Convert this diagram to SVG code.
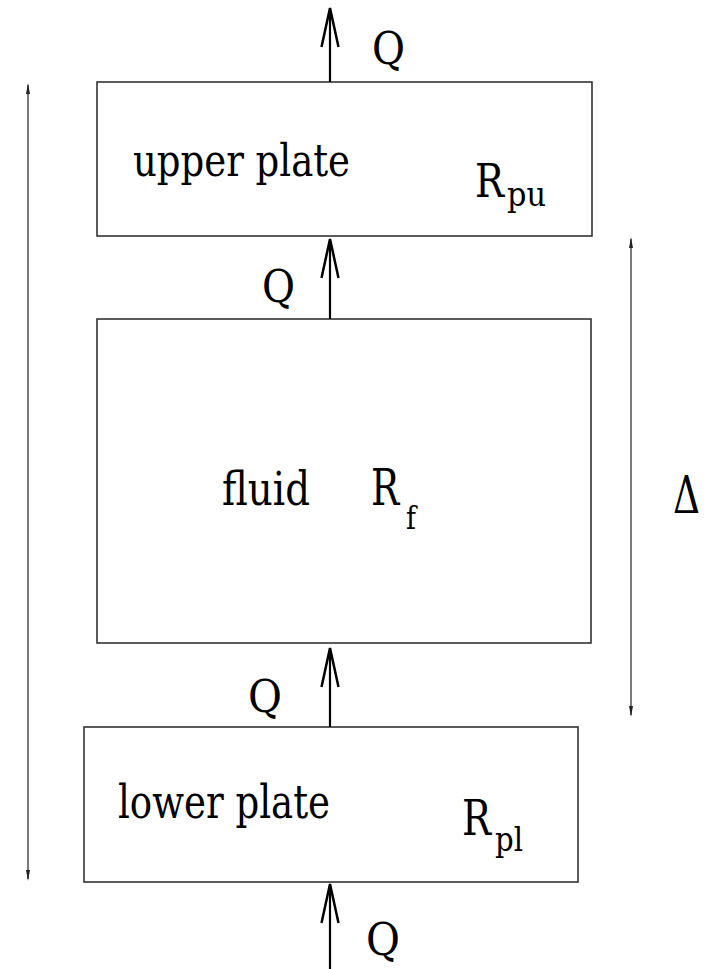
<svg xmlns="http://www.w3.org/2000/svg" width="712" height="969" viewBox="0 0 712 969">
<style>
.box{fill:#fff;stroke:#333;stroke-width:1.6}
.t{font-family:'DejaVu Serif','Noto Serif','Liberation Serif',serif;fill:#000}
.shaft{stroke:#000;stroke-width:2.2;fill:none}
.head{stroke:#000;stroke-width:2.5;fill:none;stroke-linejoin:miter}
.dim{stroke:#222;stroke-width:1.2;fill:none}
.dh{fill:#222;stroke:none}
</style>
<rect width="712" height="969" fill="#fff"/>
<g id="upper-plate">
<rect class="box" x="97" y="82" width="495" height="154"/>
<text class="t" x="133" y="176" font-size="44" textLength="217" lengthAdjust="spacingAndGlyphs">upper plate</text>
<text class="t" x="475" y="197" font-size="46" textLength="29" lengthAdjust="spacingAndGlyphs">R</text>
<text class="t" x="507" y="206" font-size="34" textLength="39" lengthAdjust="spacingAndGlyphs">pu</text>
</g>
<g id="fluid">
<rect class="box" x="97" y="319" width="494" height="324"/>
<text class="t" x="222" y="505" font-size="46" textLength="88" lengthAdjust="spacingAndGlyphs">fluid</text>
<text class="t" transform="translate(371,505) scale(0.75,1)" x="0" y="0" font-size="50">R</text>
<text class="t" x="406" y="529" font-size="32" textLength="10" lengthAdjust="spacingAndGlyphs">f</text>
</g>
<g id="lower-plate">
<rect class="box" x="84" y="727" width="494" height="155"/>
<text class="t" x="118" y="818" font-size="46" textLength="212" lengthAdjust="spacingAndGlyphs">lower plate</text>
<text class="t" x="462" y="835" font-size="48" textLength="29" lengthAdjust="spacingAndGlyphs">R</text>
<text class="t" x="495" y="851" font-size="34" textLength="28" lengthAdjust="spacingAndGlyphs">pl</text>
</g>
<g id="connectors">
<line class="shaft" x1="330" y1="82" x2="330" y2="10"/>
<path class="head" d="M321.5,47 L330,8 L338.5,47"/>
<line class="shaft" x1="330" y1="319" x2="330" y2="241"/>
<path class="head" d="M321.5,278 L330,239 L338.5,278"/>
<line class="shaft" x1="330" y1="727" x2="330" y2="650"/>
<path class="head" d="M321.5,687 L330,648 L338.5,687"/>
<line class="shaft" x1="330" y1="969" x2="330" y2="886"/>
<path class="head" d="M321.5,923 L330,884 L338.5,923"/>
<line class="dim" x1="28" y1="85" x2="28" y2="879"/>
<path class="dh" d="M28,83 L30,94 L26,94 Z"/>
<path class="dh" d="M28,881 L30,870 L26,870 Z"/>
<line class="dim" x1="631" y1="239" x2="631" y2="715"/>
<path class="dh" d="M631,237 L633,248 L629,248 Z"/>
<path class="dh" d="M631,717 L633,706 L629,706 Z"/>
</g>
<g id="labels">
<text class="t" x="372" y="64" font-size="44" textLength="33" lengthAdjust="spacingAndGlyphs">Q</text>
<text class="t" x="262" y="302" font-size="44" textLength="33" lengthAdjust="spacingAndGlyphs">Q</text>
<text class="t" x="248" y="712" font-size="44" textLength="34" lengthAdjust="spacingAndGlyphs">Q</text>
<text class="t" x="366" y="955" font-size="44" textLength="34" lengthAdjust="spacingAndGlyphs">Q</text>
<text class="t" x="673" y="513" font-size="52" textLength="27" lengthAdjust="spacingAndGlyphs">Δ</text>
</g>
</svg>
